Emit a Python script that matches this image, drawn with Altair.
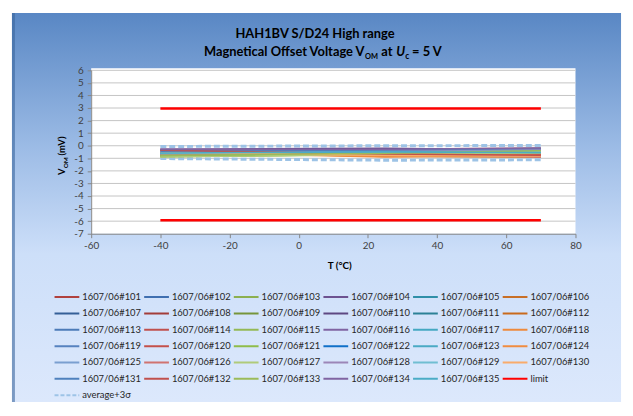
import altair as alt
import pandas as pd

# ---------------- data ----------------
temps = [-40, 25, 70]
series_ids = [f"1607/06#{i}" for i in range(101, 136)]
offset_values = [
    [-0.30, -0.25, -0.20], [-0.55, -0.45, -0.60], [-0.88, -0.70, -0.50], [-0.28, -0.20, -0.35],
    [-0.62, -0.55, -0.45], [-0.48, -0.85, -0.90], [-0.40, -0.35, -0.30], [-0.70, -0.60, -0.80],
    [-0.80, -0.65, -0.55], [-0.35, -0.30, -0.25], [-0.58, -0.50, -0.62], [-0.45, -0.80, -0.75],
    [-0.50, -0.42, -0.38], [-0.65, -0.55, -0.85], [-0.85, -0.72, -0.60], [-0.32, -0.40, -0.48],
    [-0.60, -0.48, -0.52], [-0.52, -0.90, -0.70], [-0.45, -0.38, -0.42], [-0.38, -0.50, -0.65],
    [-0.75, -0.62, -0.45], [-0.55, -0.45, -0.40], [-0.68, -0.58, -0.50], [-0.42, -0.75, -0.60],
    [-0.48, -0.40, -0.35], [-0.72, -0.55, -0.90], [-0.90, -0.68, -0.58], [-0.25, -0.35, -0.28],
    [-0.63, -0.52, -0.48], [-0.50, -0.78, -0.82], [-0.43, -0.33, -0.22], [-0.36, -0.65, -0.75],
    [-0.78, -0.60, -0.40], [-0.30, -0.28, -0.18], [-0.57, -0.50, -0.55],
]
avg_upper = [-0.06, 0.0, 0.02]
avg_lower = [-1.02, -1.15, -1.12]
limit_temps = [-40, 70]
limit_upper = 2.97
limit_lower = -5.93
x_ticks = [-60, -40, -20, 0, 20, 40, 60, 80]
y_ticks = [-7, -6, -5, -4, -3, -2, -1, 0, 1, 2, 3, 4, 5, 6]
series_colors = [
    "#b0413e", "#3f6fb0", "#8cb050", "#6d5290", "#2f8fa8", "#c86f26",
    "#345f97", "#a33d39", "#76953a", "#5e4882", "#2c8196", "#c96a1c",
    "#4c7bb8", "#c0504d", "#94b955", "#8064a2", "#45a8c2", "#ee8a3c",
    "#5682bf", "#c4504a", "#8fbc4a", "#1070c8", "#4aaac4", "#f08c40",
    "#7a9fd0", "#d07370", "#b0cb7a", "#9c86b8", "#70bed2", "#f9ab6b",
    "#4f81bd", "#c0504d", "#9bbb59", "#8064a2", "#4bacc6",
]
legend_names = series_ids + ["limit", "average+3σ"]
legend_colors = series_colors + ["#ff0000", "#9dc3e6"]
legend_dashes = [[1, 0]] * 36 + [[4, 2]]

# ---------------- tables ----------------
series_df = pd.DataFrame(
    [{"name": n, "T": t, "V": v} for n, vals in zip(series_ids, offset_values) for t, v in zip(temps, vals)]
)
avg_df = pd.DataFrame(
    [{"part": "upper", "T": t, "V": v} for t, v in zip(temps, avg_upper)]
    + [{"part": "lower", "T": t, "V": v} for t, v in zip(temps, avg_lower)]
)
limit_df = pd.DataFrame(
    [{"part": "upper", "T": t, "V": limit_upper} for t in limit_temps]
    + [{"part": "lower", "T": t, "V": limit_lower} for t in limit_temps]
)
grid_df = pd.DataFrame({"v": [v for v in y_ticks if v != y_ticks[0]]})
legend_df = pd.DataFrame({"name": legend_names})
legend_df["col"] = [i % 6 for i in range(len(legend_names))]
legend_df["row"] = [i // 6 for i in range(len(legend_names))]
legend_df["x2"] = legend_df["col"] + 25 / 90.5
legend_df["tx"] = legend_df["col"] + 28 / 90.5
dummy = pd.DataFrame({"d": [0]})

W, H = 489, 165
FONT = "Lato"

xscale = alt.Scale(domain=[-60, 80], nice=False, zero=False)
yscale = alt.Scale(domain=[-7, 6], nice=False, zero=False)
color_scale = alt.Scale(domain=legend_names, range=legend_colors)

xaxis = alt.Axis(values=x_ticks, title=None, grid=False, domainColor="#868686", tickColor="#868686",
                 tickSize=4, labelFont=FONT, labelFontSize=10, labelColor="#404040", labelPadding=3,
                 labelFlush=False, labelOverlap=False, zindex=1, labelExpr="'' + datum.value")
yaxis = alt.Axis(values=y_ticks, title=None, grid=False, domainColor="#868686", tickColor="#868686",
                 tickSize=4, labelFont=FONT, labelFontSize=10, labelColor="#404040", labelPadding=4,
                 labelOverlap=False, zindex=1, labelExpr="'' + datum.value")


def txt(s, x, y, size, bold=True, align="left", baseline="alphabetic", angle=0, italic=False, color="#000000"):
    return alt.Chart(dummy).mark_text(
        text=s, font=FONT, fontSize=size, fontWeight="bold" if bold else "normal",
        fontStyle="italic" if italic else "normal", align=align, baseline=baseline,
        angle=angle, color=color,
    ).encode(x=alt.value(x), y=alt.value(y))


gradient = {
    "gradient": "linear", "x1": 0, "y1": 0, "x2": 0, "y2": 1,
    "stops": [
        {"offset": 0, "color": "#5987c4"},
        {"offset": 0.35, "color": "#9dbce6"},
        {"offset": 0.62, "color": "#cddff9"},
        {"offset": 1, "color": "#dce8fc"},
    ],
}

bg = alt.Chart(dummy).mark_rect(fill=gradient).encode(
    x=alt.value(-80), x2=alt.value(535), y=alt.value(-58), y2=alt.value(335))
shadow = alt.Chart(dummy).mark_rect(fill="#3b659c", opacity=0.6).encode(
    x=alt.value(-80), x2=alt.value(-77), y=alt.value(-58), y2=alt.value(335))
plot_bg = alt.Chart(dummy).mark_rect(fill="white").encode(
    x=alt.value(0), x2=alt.value(W), y=alt.value(-2), y2=alt.value(H))

titles = [
    txt("HAH1BV S/D24 High range", 226, -33, 13, align="center"),
    txt("Magnetical Offset Voltage V", 276, -14, 13, align="right"),
    txt("OM", 276.5, -11, 7.5),
    txt("at", 293, -14, 13),
    txt("U", 308, -14, 13, italic=True),
    txt("c", 317, -11, 8.5),
    txt("= 5 V", 324, -14, 13),
    # y axis title
    txt("V", -26, 99, 9.5, align="right", angle=270),
    txt("OM", -23, 99, 6.5, align="left", angle=270),
    txt("(mV)", -26, 86, 9.5, align="left", angle=270),
    # x axis title
    txt("T (°C)", 251, 198, 10, align="center", baseline="middle"),
]

grid = alt.Chart(grid_df).mark_rule(color="#c4c4c4", strokeWidth=1).encode(
    y=alt.Y("v:Q", scale=yscale, axis=yaxis))
avg = alt.Chart(avg_df).mark_line(color="#9dc3e6", strokeWidth=3, strokeDash=[6, 3]).encode(
    x=alt.X("T:Q", scale=xscale, axis=xaxis), y=alt.Y("V:Q", scale=yscale, axis=yaxis), detail="part:N")
series = alt.Chart(series_df).mark_line(strokeWidth=1.5).encode(
    x=alt.X("T:Q", scale=xscale, axis=xaxis),
    y=alt.Y("V:Q", scale=yscale, axis=yaxis),
    color=alt.Color("name:N", scale=color_scale, legend=None),
)
limit = alt.Chart(limit_df).mark_line(color="#ff0000", strokeWidth=2.5).encode(
    x=alt.X("T:Q", scale=xscale, axis=xaxis), y=alt.Y("V:Q", scale=yscale, axis=yaxis), detail="part:N")
main = alt.layer(grid, avg, series, limit)

lx = alt.Scale(domain=[0, 6], range=[-37, -37 + 6 * 90.5], nice=False, zero=False)
ly = alt.Scale(domain=[0, 6], range=[229, 229 + 6 * 16.5], nice=False, zero=False)
leg_rule = alt.Chart(legend_df).mark_rule(strokeWidth=2).encode(
    x=alt.X("col:Q", scale=lx, axis=None), x2="x2:Q",
    y=alt.Y("row:Q", scale=ly, axis=None),
    color=alt.Color("name:N", scale=color_scale, legend=None),
    strokeDash=alt.StrokeDash("name:N", scale=alt.Scale(domain=legend_names, range=legend_dashes), legend=None),
)
leg_text = alt.Chart(legend_df).mark_text(align="left", baseline="middle", font=FONT, fontSize=9.5,
                                           color="#262626").encode(
    x=alt.X("tx:Q", scale=lx, axis=None), y=alt.Y("row:Q", scale=ly, axis=None), text="name:N")
legend = alt.layer(leg_rule, leg_text)

chart = alt.layer(bg, shadow, plot_bg, *titles, main, legend).resolve_scale(
    x="independent", y="independent"
).properties(
    width=W, height=H,
    padding={"left": 84, "top": 61, "right": 50, "bottom": 170},
    autosize=alt.AutoSizeParams(type="none"),
    background="white",
).configure_view(stroke=None)

chart.save("out.html", embed_options={"renderer": "svg", "actions": False})
